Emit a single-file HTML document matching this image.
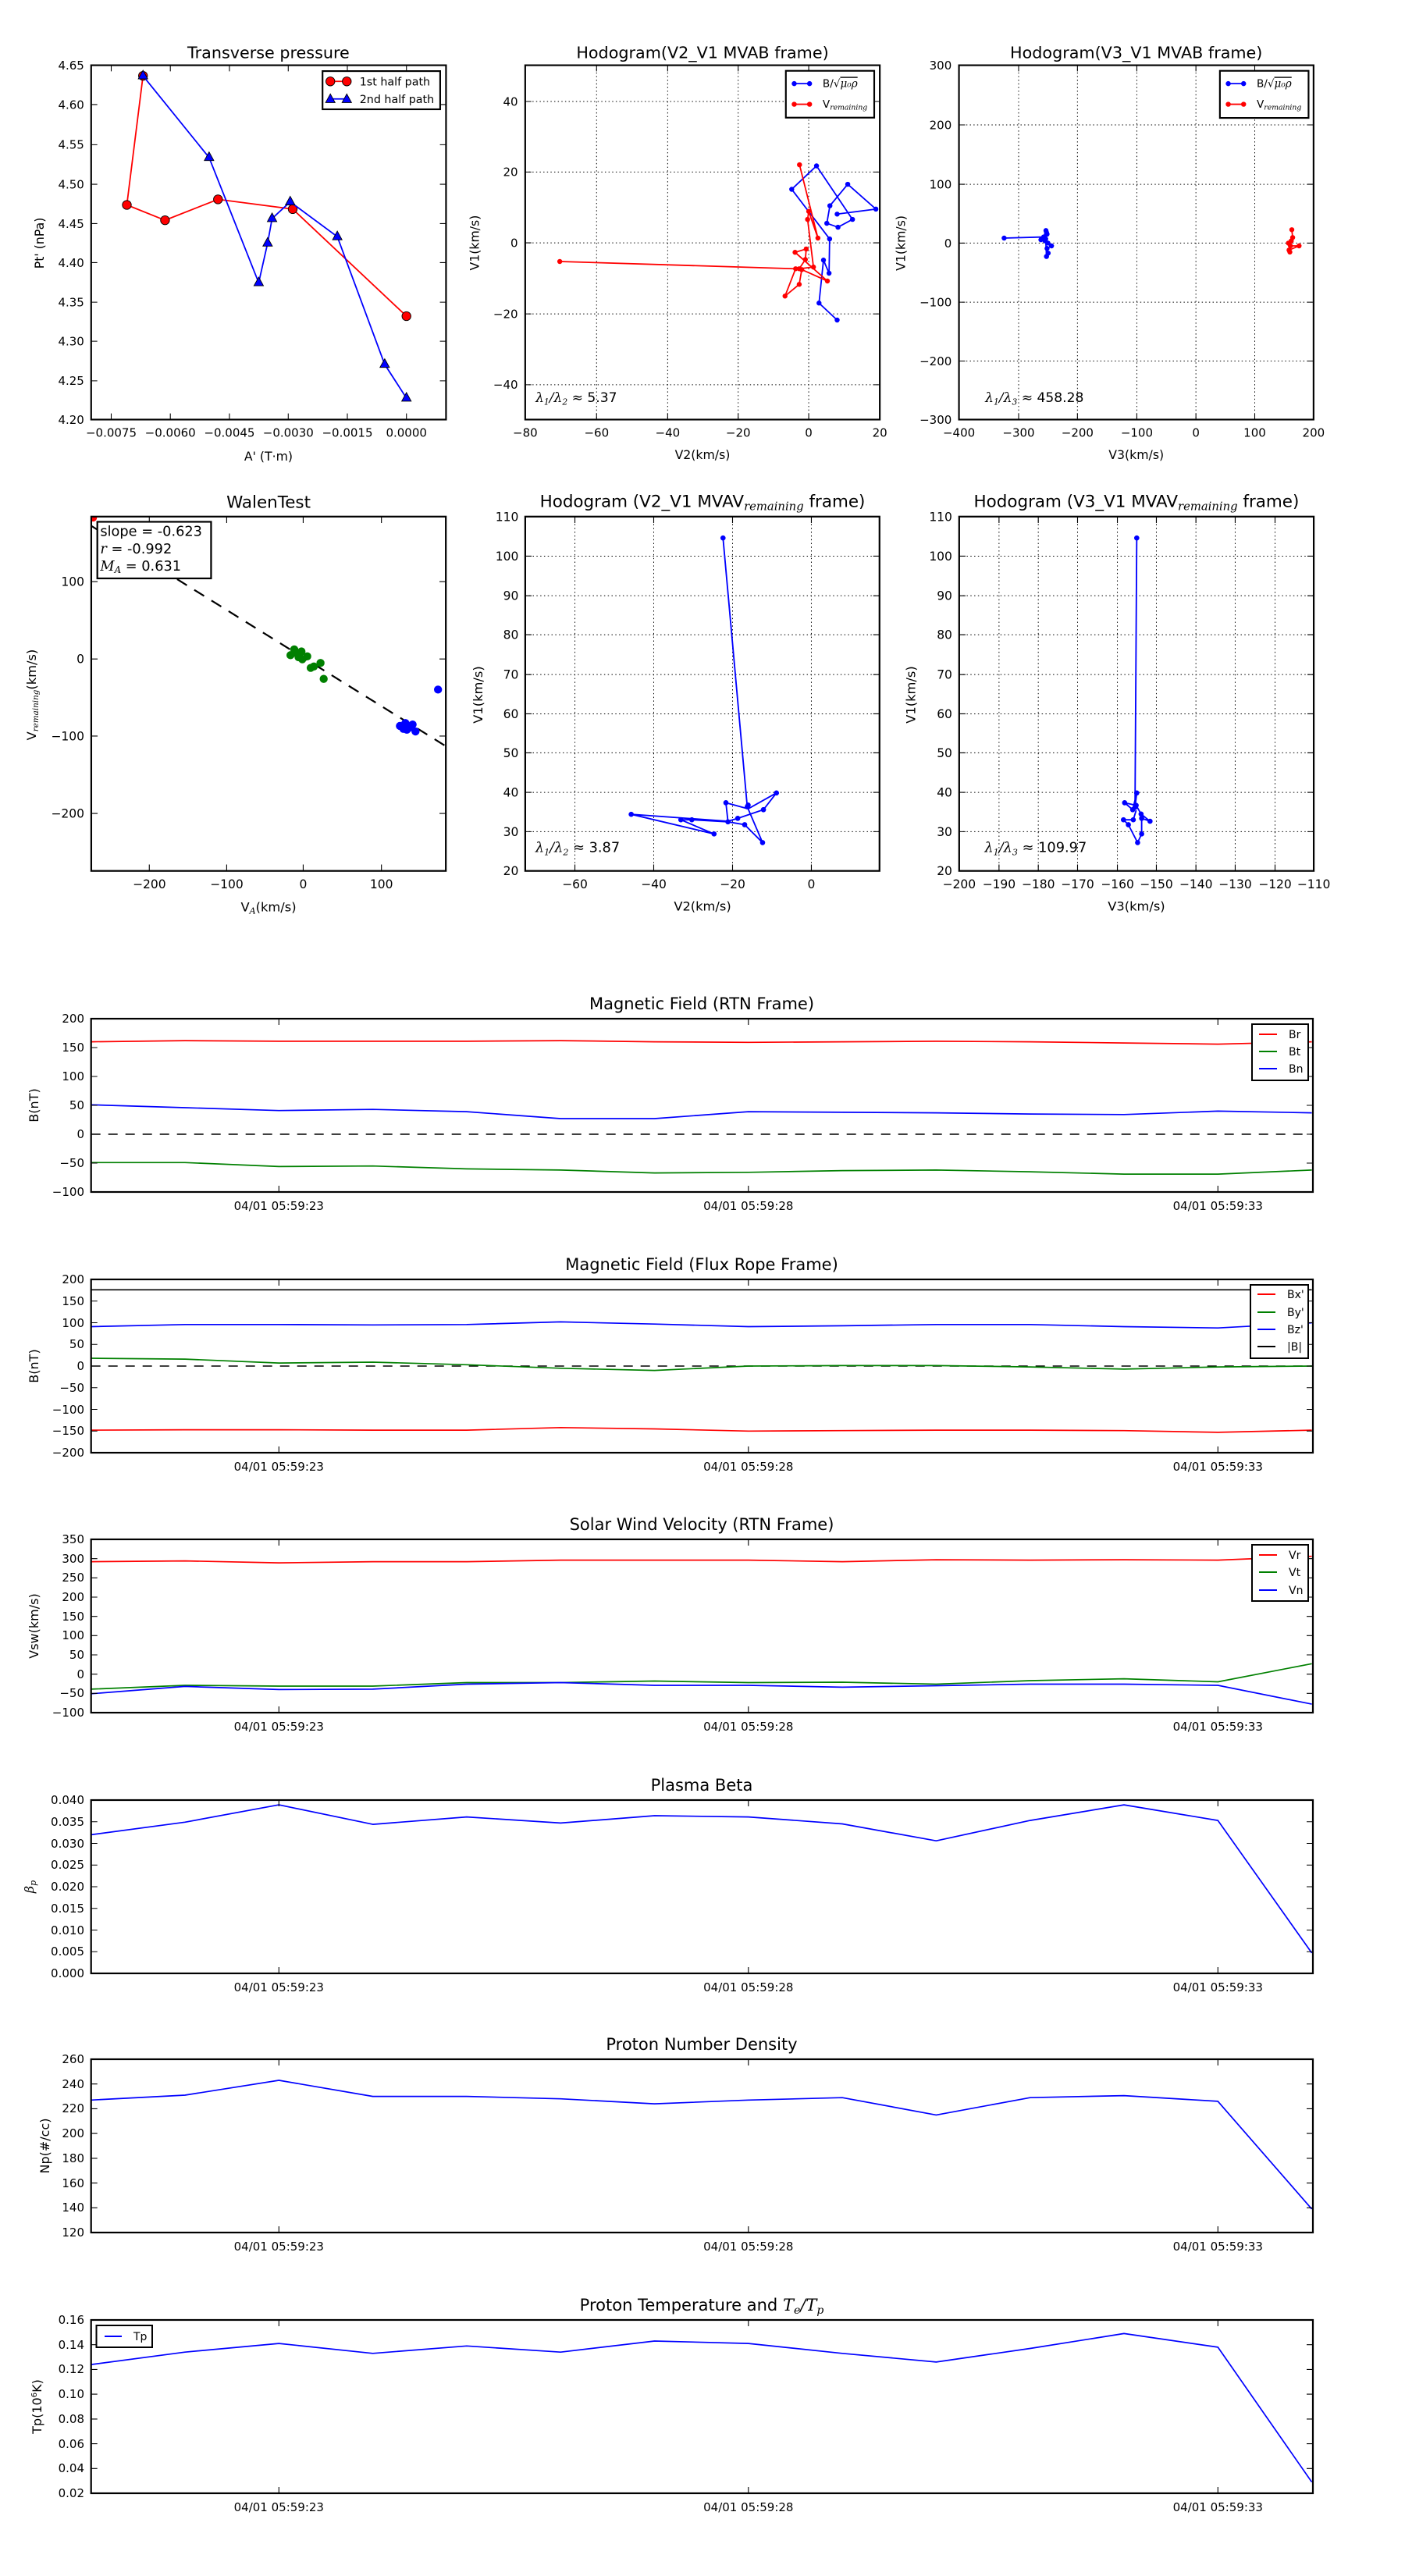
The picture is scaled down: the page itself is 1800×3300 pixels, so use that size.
<!DOCTYPE html>
<html><head><meta charset="utf-8"><style>
html,body{margin:0;padding:0;background:#fff}
svg{display:block}
text{font-family:"DejaVu Sans","Liberation Sans",sans-serif;fill:#000}
.m{font-family:"DejaVu Serif","Liberation Serif",serif;font-style:italic}
</style></head><body>
<svg width="1800" height="3300" viewBox="0 0 1800 3300" xmlns="http://www.w3.org/2000/svg">
<rect width="1800" height="3300" fill="#fff"/>
<defs>
<clipPath id="c1"><rect x="215" y="122" width="1273" height="1271"/></clipPath>
<clipPath id="c2"><rect x="148" y="122" width="1272" height="1271"/></clipPath>
<clipPath id="c3"><rect x="136" y="122" width="1272" height="1271"/></clipPath>
<clipPath id="c4"><rect x="262" y="113" width="1228" height="1227"/></clipPath>
<clipPath id="c5"><rect x="143" y="113" width="1227" height="1227"/></clipPath>
<clipPath id="c6"><rect x="132" y="113" width="1228" height="1227"/></clipPath>
<clipPath id="ct"><rect x="116.7" y="0" width="1565.3" height="3300"/></clipPath>
</defs>

<!-- ===== Panel 1: Transverse pressure ===== -->
<g transform="translate(40,40) scale(0.357143)">
<text x="851" y="97" font-size="58" text-anchor="middle">Transverse pressure</text>
<g clip-path="url(#c1)">
<polyline points="401,160 343,623 480,678 670,603 938,638 1346,1022" fill="none" stroke="#f00" stroke-width="5"/>
<g fill="#f00" stroke="#000" stroke-width="2.5">
<circle cx="401" cy="160" r="16"/><circle cx="343" cy="623" r="16"/><circle cx="480" cy="678" r="16"/><circle cx="670" cy="603" r="16"/><circle cx="938" cy="638" r="16"/><circle cx="1346" cy="1022" r="16"/>
</g>
<polyline points="401,160 638,453 816,902 848,760 864,672 929,612 1098,737 1268,1195 1346,1316" fill="none" stroke="#00f" stroke-width="5"/>
<path fill="#00f" stroke="#000" stroke-width="2.5" d="M401,140 L418,171 L384,171Z M638,433 L655,464 L621,464Z M816,882 L833,913 L799,913Z M848,740 L865,771 L831,771Z M864,652 L881,683 L847,683Z M929,592 L946,623 L912,623Z M1098,717 L1115,748 L1081,748Z M1268,1175 L1285,1206 L1251,1206Z M1346,1296 L1363,1327 L1329,1327Z"/>
</g>
<rect x="215" y="122" width="1273" height="1271" fill="none" stroke="#000" stroke-width="6"/>
<path stroke="#000" stroke-width="3" d="M215,263h22M215,407h22M215,549h22M215,690h22M215,830h22M215,972h22M215,1112h22M215,1254h22M1488,263h-22M1488,407h-22M1488,549h-22M1488,690h-22M1488,830h-22M1488,972h-22M1488,1112h-22M1488,1254h-22M287,1393v-22M499,1393v-22M711,1393v-22M922,1393v-22M1134,1393v-22M1346,1393v-22M287,122v22M499,122v22M711,122v22M922,122v22M1134,122v22M1346,122v22"/>
<g font-size="42" text-anchor="end">
<text x="190" y="137">4.65</text><text x="190" y="278">4.60</text><text x="190" y="422">4.55</text><text x="190" y="564">4.50</text><text x="190" y="705">4.45</text><text x="190" y="845">4.40</text><text x="190" y="987">4.35</text><text x="190" y="1127">4.30</text><text x="190" y="1269">4.25</text><text x="190" y="1408">4.20</text>
</g>
<g font-size="42" text-anchor="middle">
<text x="287" y="1455">−0.0075</text><text x="499" y="1455">−0.0060</text><text x="711" y="1455">−0.0045</text><text x="922" y="1455">−0.0030</text><text x="1134" y="1455">−0.0015</text><text x="1346" y="1455">0.0000</text>
</g>
<text x="851" y="1540" font-size="44" text-anchor="middle">A' (T·m)</text>
<text transform="translate(45,760) rotate(-90)" font-size="44" text-anchor="middle">Pt' (nPa)</text>
<rect x="1045" y="143" width="422" height="137" fill="#fff" stroke="#000" stroke-width="6"/>
<line x1="1073" y1="180" x2="1132" y2="180" stroke="#f00" stroke-width="5"/>
<circle cx="1073" cy="180" r="16" fill="#f00" stroke="#000" stroke-width="2.5"/><circle cx="1132" cy="180" r="16" fill="#f00" stroke="#000" stroke-width="2.5"/>
<text x="1178" y="194" font-size="40">1st half path</text>
<line x1="1073" y1="243" x2="1132" y2="243" stroke="#00f" stroke-width="5"/>
<path fill="#00f" stroke="#000" stroke-width="2.5" d="M1073,225 L1090,256 L1056,256Z M1132,225 L1149,256 L1115,256Z"/>
<text x="1178" y="257" font-size="40">2nd half path</text>
</g>

<!-- ===== Panel 2: Hodogram V2_V1 MVAB ===== -->
<g transform="translate(620,40) scale(0.357143)">
<text x="784" y="97" font-size="58" text-anchor="middle">Hodogram(V2_V1 MVAB frame)</text>
<path stroke="#000" stroke-width="2.8" stroke-dasharray="4,9" fill="none" d="M404,122V1393M659,122V1393M912,122V1393M1165,122V1393M148,252H1420M148,505H1420M148,759H1420M148,1014H1420M148,1268H1420"/>
<g clip-path="url(#c2)">
<polyline points="1267,1036 1202,975 1218,821 1238,868 1240,745 1104,567 1193,483 1322,675 1270,703 1230,689 1241,626 1305,549 1406,638 1267,656" fill="none" stroke="#00f" stroke-width="5"/>
<g fill="#00f"><circle cx="1267" cy="1036" r="9"/><circle cx="1202" cy="975" r="9"/><circle cx="1218" cy="821" r="9"/><circle cx="1238" cy="868" r="9"/><circle cx="1240" cy="745" r="9"/><circle cx="1104" cy="567" r="9"/><circle cx="1193" cy="483" r="9"/><circle cx="1322" cy="675" r="9"/><circle cx="1270" cy="703" r="9"/><circle cx="1230" cy="689" r="9"/><circle cx="1241" cy="626" r="9"/><circle cx="1305" cy="549" r="9"/><circle cx="1406" cy="638" r="9"/><circle cx="1267" cy="656" r="9"/></g>
<polyline points="272,826 1118,852 1080,950 1131,908 1140,855 1232,896 1116,793 1156,781 1153,819 1131,852 1182,846 1161,675 1165,646 1198,742 1132,479" fill="none" stroke="#f00" stroke-width="5"/>
<g fill="#f00"><circle cx="272" cy="826" r="9"/><circle cx="1118" cy="852" r="9"/><circle cx="1080" cy="950" r="9"/><circle cx="1131" cy="908" r="9"/><circle cx="1140" cy="855" r="9"/><circle cx="1232" cy="896" r="9"/><circle cx="1116" cy="793" r="9"/><circle cx="1156" cy="781" r="9"/><circle cx="1153" cy="819" r="9"/><circle cx="1131" cy="852" r="9"/><circle cx="1182" cy="846" r="9"/><circle cx="1161" cy="675" r="9"/><circle cx="1165" cy="646" r="9"/><circle cx="1198" cy="742" r="9"/><circle cx="1132" cy="479" r="9"/></g>
</g>
<rect x="148" y="122" width="1272" height="1271" fill="none" stroke="#000" stroke-width="6"/>
<path stroke="#000" stroke-width="3" d="M148,252h22M148,505h22M148,759h22M148,1014h22M148,1268h22M1420,252h-22M1420,505h-22M1420,759h-22M1420,1014h-22M1420,1268h-22M404,1393v-22M659,1393v-22M912,1393v-22M1165,1393v-22M404,122v22M659,122v22M912,122v22M1165,122v22"/>
<g font-size="42" text-anchor="end"><text x="122" y="267">40</text><text x="122" y="520">20</text><text x="122" y="774">0</text><text x="122" y="1029">−20</text><text x="122" y="1283">−40</text></g>
<g font-size="42" text-anchor="middle"><text x="148" y="1455">−80</text><text x="404" y="1455">−60</text><text x="659" y="1455">−40</text><text x="912" y="1455">−20</text><text x="1165" y="1455">0</text><text x="1420" y="1455">20</text></g>
<text x="784" y="1535" font-size="44" text-anchor="middle">V2(km/s)</text>
<text transform="translate(-18,759) rotate(-90)" font-size="44" text-anchor="middle">V1(km/s)</text>
<text x="185" y="1330" font-size="48"><tspan class="m">λ</tspan><tspan class="m" font-size="30" dy="10">1</tspan><tspan class="m" dy="-10">/λ</tspan><tspan class="m" font-size="30" dy="10">2</tspan><tspan dy="-10"> ≈ 5.37</tspan></text>
<rect x="1083" y="142" width="317" height="168" fill="#fff" stroke="#000" stroke-width="6"/>
<line x1="1113" y1="188" x2="1168" y2="188" stroke="#00f" stroke-width="5"/><circle cx="1113" cy="188" r="9" fill="#00f"/><circle cx="1168" cy="188" r="9" fill="#00f"/>
<text x="1215" y="200" font-size="38">B/√<tspan class="m" text-decoration="overline">μ₀ρ</tspan></text>
<line x1="1113" y1="262" x2="1168" y2="262" stroke="#f00" stroke-width="5"/><circle cx="1113" cy="262" r="9" fill="#f00"/><circle cx="1168" cy="262" r="9" fill="#f00"/>
<text x="1215" y="275" font-size="38">V<tspan class="m" font-size="26" dy="6">remaining</tspan></text>
</g>

<!-- ===== Panel 3: Hodogram V3_V1 MVAB ===== -->
<g transform="translate(1180,40) scale(0.357143)">
<text x="772" y="97" font-size="58" text-anchor="middle">Hodogram(V3_V1 MVAB frame)</text>
<path stroke="#000" stroke-width="2.8" stroke-dasharray="4,9" fill="none" d="M350,122V1393M561,122V1393M774,122V1393M986,122V1393M1197,122V1393M136,336H1408M136,549H1408M136,760H1408M136,972H1408M136,1183H1408"/>
<g clip-path="url(#c3)">
<polyline points="298,742 440,738 448,715 452,728 430,748 445,752 455,760 468,770 452,779 456,796 450,808 447,745 450,722" fill="none" stroke="#00f" stroke-width="5"/>
<g fill="#00f"><circle cx="298" cy="742" r="9"/><circle cx="440" cy="738" r="9"/><circle cx="448" cy="715" r="9"/><circle cx="452" cy="728" r="9"/><circle cx="430" cy="748" r="9"/><circle cx="445" cy="752" r="9"/><circle cx="455" cy="760" r="9"/><circle cx="468" cy="770" r="9"/><circle cx="452" cy="779" r="9"/><circle cx="456" cy="796" r="9"/><circle cx="450" cy="808" r="9"/><circle cx="447" cy="745" r="9"/><circle cx="450" cy="722" r="9"/></g>
<polyline points="1330,712 1333,740 1318,760 1325,770 1356,770 1320,785 1323,792 1328,752 1322,762" fill="none" stroke="#f00" stroke-width="5"/>
<g fill="#f00"><circle cx="1330" cy="712" r="9"/><circle cx="1333" cy="740" r="9"/><circle cx="1318" cy="760" r="9"/><circle cx="1325" cy="770" r="9"/><circle cx="1356" cy="770" r="9"/><circle cx="1320" cy="785" r="9"/><circle cx="1323" cy="792" r="9"/><circle cx="1328" cy="752" r="9"/></g>
</g>
<rect x="136" y="122" width="1272" height="1271" fill="none" stroke="#000" stroke-width="6"/>
<path stroke="#000" stroke-width="3" d="M136,336h22M136,549h22M136,760h22M136,972h22M136,1183h22M1408,336h-22M1408,549h-22M1408,760h-22M1408,972h-22M1408,1183h-22M350,1393v-22M561,1393v-22M774,1393v-22M986,1393v-22M1197,1393v-22M350,122v22M561,122v22M774,122v22M986,122v22M1197,122v22"/>
<g font-size="42" text-anchor="end"><text x="110" y="137">300</text><text x="110" y="351">200</text><text x="110" y="564">100</text><text x="110" y="775">0</text><text x="110" y="987">−100</text><text x="110" y="1198">−200</text><text x="110" y="1408">−300</text></g>
<g font-size="42" text-anchor="middle"><text x="136" y="1455">−400</text><text x="350" y="1455">−300</text><text x="561" y="1455">−200</text><text x="774" y="1455">−100</text><text x="986" y="1455">0</text><text x="1197" y="1455">100</text><text x="1408" y="1455">200</text></g>
<text x="772" y="1535" font-size="44" text-anchor="middle">V3(km/s)</text>
<text transform="translate(-58,760) rotate(-90)" font-size="44" text-anchor="middle">V1(km/s)</text>
<text x="230" y="1330" font-size="48"><tspan class="m">λ</tspan><tspan class="m" font-size="30" dy="10">1</tspan><tspan class="m" dy="-10">/λ</tspan><tspan class="m" font-size="30" dy="10">3</tspan><tspan dy="-10"> ≈ 458.28</tspan></text>
<rect x="1072" y="142" width="318" height="169" fill="#fff" stroke="#000" stroke-width="6"/>
<line x1="1102" y1="188" x2="1157" y2="188" stroke="#00f" stroke-width="5"/><circle cx="1102" cy="188" r="9" fill="#00f"/><circle cx="1157" cy="188" r="9" fill="#00f"/>
<text x="1204" y="200" font-size="38">B/√<tspan class="m" text-decoration="overline">μ₀ρ</tspan></text>
<line x1="1102" y1="262" x2="1157" y2="262" stroke="#f00" stroke-width="5"/><circle cx="1102" cy="262" r="9" fill="#f00"/><circle cx="1157" cy="262" r="9" fill="#f00"/>
<text x="1204" y="275" font-size="38">V<tspan class="m" font-size="26" dy="6">remaining</tspan></text>
</g>

<!-- ===== Panel 4: WalenTest ===== -->
<g transform="translate(20,620) scale(0.36991)">
<text x="876" y="82" font-size="58" text-anchor="middle">WalenTest</text>
<g clip-path="url(#c4)">
<line x1="262" y1="145" x2="1490" y2="908" stroke="#000" stroke-width="6" stroke-dasharray="40,30"/>
<circle cx="268" cy="116" r="14" fill="#f00"/>
<g fill="#008000"><circle cx="952" cy="593" r="14"/><circle cx="965" cy="573" r="14"/><circle cx="978" cy="590" r="14"/><circle cx="990" cy="580" r="14"/><circle cx="993" cy="607" r="14"/><circle cx="1010" cy="597" r="14"/><circle cx="1022" cy="637" r="14"/><circle cx="1033" cy="632" r="14"/><circle cx="1056" cy="620" r="14"/><circle cx="1067" cy="675" r="14"/><circle cx="980" cy="600" r="14"/><circle cx="970" cy="585" r="14"/></g>
<g fill="#00f"><circle cx="1331" cy="838" r="14"/><circle cx="1350" cy="828" r="14"/><circle cx="1355" cy="851" r="14"/><circle cx="1375" cy="833" r="14"/><circle cx="1385" cy="857" r="14"/><circle cx="1343" cy="848" r="14"/><circle cx="1463" cy="712" r="14"/><circle cx="1362" cy="845" r="14"/></g>
</g>
<rect x="262" y="113" width="1228" height="1227" fill="none" stroke="#000" stroke-width="6"/>
<path stroke="#000" stroke-width="3" d="M262,338h22M262,606h22M262,873h22M262,1141h22M1490,338h-22M1490,606h-22M1490,873h-22M1490,1141h-22M463,1340v-22M731,1340v-22M996,1340v-22M1267,1340v-22M463,113v22M731,113v22M996,113v22M1267,113v22"/>
<g font-size="42" text-anchor="end"><text x="238" y="353">100</text><text x="238" y="621">0</text><text x="238" y="888">−100</text><text x="238" y="1156">−200</text></g>
<g font-size="42" text-anchor="middle"><text x="463" y="1400">−200</text><text x="731" y="1400">−100</text><text x="996" y="1400">0</text><text x="1267" y="1400">100</text></g>
<text x="876" y="1480" font-size="44" text-anchor="middle">V<tspan class="m" font-size="30" dy="8">A</tspan><tspan dy="-8">(km/s)</tspan></text>
<text transform="translate(70,730) rotate(-90)" font-size="44" text-anchor="middle">V<tspan class="m" font-size="28" dy="8">remaining</tspan><tspan dy="-8">(km/s)</tspan></text>
<rect x="283" y="131" width="394" height="196" fill="#fff" stroke="#000" stroke-width="6"/>
<text x="293" y="180" font-size="48">slope = -0.623</text>
<text x="293" y="240" font-size="48"><tspan class="m">r</tspan> = -0.992</text>
<text x="293" y="300" font-size="48"><tspan class="m">M</tspan><tspan class="m" font-size="32" dy="8">A</tspan><tspan dy="-8"> = 0.631</tspan></text>
</g>

<!-- ===== Panel 5: Hodogram V2_V1 MVAV ===== -->
<g transform="translate(620,620) scale(0.36991)">
<text x="757" y="80" font-size="58" text-anchor="middle">Hodogram (V2_V1 MVAV<tspan class="m" font-size="40" dy="10">remaining</tspan><tspan dy="-10"> frame)</tspan></text>
<path stroke="#000" stroke-width="2.7" stroke-dasharray="4,9" fill="none" d="M315,113V1340M588,113V1340M861,113V1340M1134,113V1340M143,250H1370M143,387H1370M143,522H1370M143,660H1370M143,796H1370M143,931H1370M143,1068H1370M143,1204H1370"/>
<g clip-path="url(#c5)">
<polyline points="828,187 912,1118 965,1242 903,1180 845,1170 720,1163 682,1163 797,1212 510,1144 845,1168 879,1158 968,1128 1013,1070 915,1125 838,1104 845,1168" fill="none" stroke="#00f" stroke-width="5"/>
<g fill="#00f"><circle cx="828" cy="187" r="9"/><circle cx="912" cy="1118" r="9"/><circle cx="965" cy="1242" r="9"/><circle cx="903" cy="1180" r="9"/><circle cx="845" cy="1170" r="9"/><circle cx="720" cy="1163" r="9"/><circle cx="682" cy="1163" r="9"/><circle cx="797" cy="1212" r="9"/><circle cx="510" cy="1144" r="9"/><circle cx="879" cy="1158" r="9"/><circle cx="968" cy="1128" r="9"/><circle cx="1013" cy="1070" r="9"/><circle cx="915" cy="1112" r="9"/><circle cx="838" cy="1104" r="9"/></g>
</g>
<rect x="143" y="113" width="1227" height="1227" fill="none" stroke="#000" stroke-width="6"/>
<path stroke="#000" stroke-width="3" d="M143,250h22M143,387h22M143,522h22M143,660h22M143,796h22M143,931h22M143,1068h22M143,1204h22M1370,250h-22M1370,387h-22M1370,522h-22M1370,660h-22M1370,796h-22M1370,931h-22M1370,1068h-22M1370,1204h-22M315,1340v-22M588,1340v-22M861,1340v-22M1134,1340v-22M315,113v22M588,113v22M861,113v22M1134,113v22"/>
<g font-size="42" text-anchor="end"><text x="120" y="128">110</text><text x="120" y="265">100</text><text x="120" y="402">90</text><text x="120" y="537">80</text><text x="120" y="675">70</text><text x="120" y="811">60</text><text x="120" y="946">50</text><text x="120" y="1083">40</text><text x="120" y="1219">30</text><text x="120" y="1355">20</text></g>
<g font-size="42" text-anchor="middle"><text x="315" y="1400">−60</text><text x="588" y="1400">−40</text><text x="861" y="1400">−20</text><text x="1134" y="1400">0</text></g>
<text x="757" y="1478" font-size="44" text-anchor="middle">V2(km/s)</text>
<text transform="translate(-6,730) rotate(-90)" font-size="44" text-anchor="middle">V1(km/s)</text>
<text x="178" y="1275" font-size="48"><tspan class="m">λ</tspan><tspan class="m" font-size="30" dy="10">1</tspan><tspan class="m" dy="-10">/λ</tspan><tspan class="m" font-size="30" dy="10">2</tspan><tspan dy="-10"> ≈ 3.87</tspan></text>
</g>

<!-- ===== Panel 6: Hodogram V3_V1 MVAV ===== -->
<g transform="translate(1180,620) scale(0.36991)">
<text x="746" y="80" font-size="58" text-anchor="middle">Hodogram (V3_V1 MVAV<tspan class="m" font-size="40" dy="10">remaining</tspan><tspan dy="-10"> frame)</tspan></text>
<path stroke="#000" stroke-width="2.7" stroke-dasharray="4,9" fill="none" d="M270,113V1340M406,113V1340M542,113V1340M680,113V1340M815,113V1340M952,113V1340M1088,113V1340M1226,113V1340M132,250H1360M132,387H1360M132,522H1360M132,660H1360M132,796H1360M132,931H1360M132,1068H1360M132,1204H1360"/>
<g clip-path="url(#c6)">
<polyline points="747,187 741,1120 747,1070 733,1128 705,1104 745,1113 762,1143 793,1168 764,1158 764,1212 750,1242 718,1180 701,1163 735,1163 745,1130" fill="none" stroke="#00f" stroke-width="5"/>
<g fill="#00f"><circle cx="747" cy="187" r="9"/><circle cx="741" cy="1120" r="9"/><circle cx="747" cy="1070" r="9"/><circle cx="733" cy="1128" r="9"/><circle cx="705" cy="1104" r="9"/><circle cx="745" cy="1113" r="9"/><circle cx="762" cy="1143" r="9"/><circle cx="793" cy="1168" r="9"/><circle cx="764" cy="1158" r="9"/><circle cx="764" cy="1212" r="9"/><circle cx="750" cy="1242" r="9"/><circle cx="718" cy="1180" r="9"/><circle cx="701" cy="1163" r="9"/><circle cx="735" cy="1163" r="9"/></g>
</g>
<rect x="132" y="113" width="1228" height="1227" fill="none" stroke="#000" stroke-width="6"/>
<path stroke="#000" stroke-width="3" d="M132,250h22M132,387h22M132,522h22M132,660h22M132,796h22M132,931h22M132,1068h22M132,1204h22M1360,250h-22M1360,387h-22M1360,522h-22M1360,660h-22M1360,796h-22M1360,931h-22M1360,1068h-22M1360,1204h-22M270,1340v-22M406,1340v-22M542,1340v-22M680,1340v-22M815,1340v-22M952,1340v-22M1088,1340v-22M1226,1340v-22M270,113v22M406,113v22M542,113v22M680,113v22M815,113v22M952,113v22M1088,113v22M1226,113v22"/>
<g font-size="42" text-anchor="end"><text x="108" y="128">110</text><text x="108" y="265">100</text><text x="108" y="402">90</text><text x="108" y="537">80</text><text x="108" y="675">70</text><text x="108" y="811">60</text><text x="108" y="946">50</text><text x="108" y="1083">40</text><text x="108" y="1219">30</text><text x="108" y="1355">20</text></g>
<g font-size="42" text-anchor="middle"><text x="132" y="1400">−200</text><text x="270" y="1400">−190</text><text x="406" y="1400">−180</text><text x="542" y="1400">−170</text><text x="680" y="1400">−160</text><text x="815" y="1400">−150</text><text x="952" y="1400">−140</text><text x="1088" y="1400">−130</text><text x="1226" y="1400">−120</text><text x="1360" y="1400">−110</text></g>
<text x="746" y="1478" font-size="44" text-anchor="middle">V3(km/s)</text>
<text transform="translate(-20,730) rotate(-90)" font-size="44" text-anchor="middle">V1(km/s)</text>
<text x="220" y="1275" font-size="48"><tspan class="m">λ</tspan><tspan class="m" font-size="30" dy="10">1</tspan><tspan class="m" dy="-10">/λ</tspan><tspan class="m" font-size="30" dy="10">3</tspan><tspan dy="-10"> ≈ 109.97</tspan></text>
</g>

<!-- ===== Time series ===== -->
<g font-size="21" text-anchor="middle">
<text x="899" y="1293">Magnetic Field (RTN Frame)</text>
<text x="899" y="1627">Magnetic Field (Flux Rope Frame)</text>
<text x="899" y="1960">Solar Wind Velocity (RTN Frame)</text>
<text x="899" y="2294">Plasma Beta</text>
<text x="899" y="2626">Proton Number Density</text>
<text x="899" y="2960">Proton Temperature and <tspan class="m">T</tspan><tspan class="m" font-size="14" dy="4">e</tspan><tspan class="m" dy="-4">/T</tspan><tspan class="m" font-size="14" dy="4">p</tspan></text>
</g>

<g clip-path="url(#ct)" fill="none" stroke-width="1.7" stroke-linejoin="round">
<!-- P1 -->
<line x1="116.7" y1="1453" x2="1682" y2="1453" stroke="#000" stroke-width="1.5" stroke-dasharray="12,10"/>
<polyline stroke="#f00" points="116.7,1334.6 237,1333.1 357.3,1333.9 477.6,1333.9 597.9,1333.9 718.2,1333.1 838.5,1334.6 958.8,1335.3 1079.1,1334.6 1199.4,1333.9 1319.7,1334.6 1440,1336.1 1560.3,1337.6 1680.6,1334.6"/>
<polyline stroke="#008000" points="116.7,1489.3 237,1489.3 357.3,1494.4 477.6,1493.7 597.9,1497.4 718.2,1498.9 838.5,1502.6 958.8,1501.8 1079.1,1499.6 1199.4,1498.9 1319.7,1501.1 1440,1504.1 1560.3,1504.1 1680.6,1498.9"/>
<polyline stroke="#00f" points="116.7,1415.3 237,1419 357.3,1422.7 477.6,1421.2 597.9,1424.1 718.2,1433 838.5,1433 958.8,1424.1 1079.1,1424.9 1199.4,1425.6 1319.7,1427.1 1440,1427.8 1560.3,1423.4 1680.6,1425.6"/>
<!-- P2 -->
<line x1="116.7" y1="1750" x2="1682" y2="1750" stroke="#000" stroke-width="1.5" stroke-dasharray="12,10"/>
<polyline stroke="#000" points="116.7,1652.3 1680.6,1652.3"/>
<polyline stroke="#00f" points="116.7,1699.5 237,1696.8 357.3,1696.8 477.6,1697.3 597.9,1696.8 718.2,1693.4 838.5,1696.2 958.8,1699.5 1079.1,1698.4 1199.4,1696.8 1319.7,1696.8 1440,1699.5 1560.3,1701.2 1680.6,1694.6"/>
<polyline stroke="#008000" points="116.7,1740 237,1741.1 357.3,1746.1 477.6,1745 597.9,1748.3 718.2,1752.8 838.5,1755.6 958.8,1750 1079.1,1749.4 1199.4,1749.4 1319.7,1751.1 1440,1753.9 1560.3,1751.1 1680.6,1750"/>
<polyline stroke="#f00" points="116.7,1832.1 237,1831.6 357.3,1831.6 477.6,1832.1 597.9,1832.1 718.2,1828.8 838.5,1830.5 958.8,1833.3 1079.1,1832.7 1199.4,1832.1 1319.7,1832.1 1440,1832.7 1560.3,1834.9 1680.6,1832.1"/>
<!-- P3 -->
<polyline stroke="#f00" points="116.7,2000.6 237,1999.6 357.3,2002.1 477.6,2000.6 597.9,2000.6 718.2,1998.6 838.5,1998.6 958.8,1998.6 1079.1,2000.6 1199.4,1998.1 1319.7,1998.6 1440,1998.1 1560.3,1998.6 1680.6,1993.7"/>
<polyline stroke="#008000" points="116.7,2163.9 237,2159 357.3,2160 477.6,2160 597.9,2155.5 718.2,2155.5 838.5,2153.5 958.8,2155.5 1079.1,2155 1199.4,2157.5 1319.7,2153 1440,2150.6 1560.3,2154.5 1680.6,2131.3"/>
<polyline stroke="#00f" points="116.7,2169.8 237,2160.4 357.3,2164.4 477.6,2163.9 597.9,2157.5 718.2,2155.5 838.5,2159 958.8,2159 1079.1,2161.4 1199.4,2159.5 1319.7,2157.5 1440,2157.5 1560.3,2159 1680.6,2183.1"/>
<!-- P4 -->
<polyline stroke="#00f" points="116.7,2350.4 237,2334.3 357.3,2312.1 477.6,2337.1 597.9,2327.6 718.2,2335.4 838.5,2326 958.8,2327.6 1079.1,2336.5 1199.4,2358.2 1319.7,2332.1 1440,2312.1 1560.3,2332.1 1680.6,2501.9"/>
<!-- P5 -->
<polyline stroke="#00f" points="116.7,2690.3 237,2684 357.3,2665 477.6,2685.6 597.9,2685.6 718.2,2688.7 838.5,2695.1 958.8,2690.3 1079.1,2687.2 1199.4,2709.4 1319.7,2687.2 1440,2684.6 1560.3,2691.9 1680.6,2829.9"/>
<!-- P6 -->
<polyline stroke="#00f" points="116.7,3029.1 237,3013.2 357.3,3002.1 477.6,3014.8 597.9,3005.3 718.2,3013.2 838.5,2999 958.8,3002.1 1079.1,3014.8 1199.4,3025.9 1319.7,3008.5 1440,2989.4 1560.3,3006.9 1680.6,3179.7"/>
</g>

<!-- frames -->
<g fill="none" stroke="#000" stroke-width="2.2">
<rect x="116.7" y="1305" width="1565.3" height="222"/>
<rect x="116.7" y="1639" width="1565.3" height="222"/>
<rect x="116.7" y="1972" width="1565.3" height="222"/>
<rect x="116.7" y="2306" width="1565.3" height="222"/>
<rect x="116.7" y="2638" width="1565.3" height="222"/>
<rect x="116.7" y="2972" width="1565.3" height="222"/>
</g>
<path stroke="#000" stroke-width="1.1" fill="none" d="
M116.7,1342h8M116.7,1379h8M116.7,1416h8M116.7,1453h8M116.7,1490h8M1682,1342h-8M1682,1379h-8M1682,1416h-8M1682,1453h-8M1682,1490h-8
M357.3,1305v8M958.8,1305v8M1560.3,1305v8M357.3,1527v-8M958.8,1527v-8M1560.3,1527v-8
M116.7,1666.75h8M116.7,1694.5h8M116.7,1722.25h8M116.7,1750h8M116.7,1777.75h8M116.7,1805.5h8M116.7,1833.25h8M1682,1666.75h-8M1682,1694.5h-8M1682,1722.25h-8M1682,1750h-8M1682,1777.75h-8M1682,1805.5h-8M1682,1833.25h-8
M357.3,1639v8M958.8,1639v8M1560.3,1639v8M357.3,1861v-8M958.8,1861v-8M1560.3,1861v-8
M116.7,1996.7h8M116.7,2021.3h8M116.7,2046h8M116.7,2070.7h8M116.7,2095.3h8M116.7,2120h8M116.7,2144.7h8M116.7,2169.3h8M1682,1996.7h-8M1682,2021.3h-8M1682,2046h-8M1682,2070.7h-8M1682,2095.3h-8M1682,2120h-8M1682,2144.7h-8M1682,2169.3h-8
M357.3,1972v8M958.8,1972v8M1560.3,1972v8M357.3,2194v-8M958.8,2194v-8M1560.3,2194v-8
M116.7,2333.75h8M116.7,2361.5h8M116.7,2389.25h8M116.7,2417h8M116.7,2444.75h8M116.7,2472.5h8M116.7,2500.25h8M1682,2333.75h-8M1682,2361.5h-8M1682,2389.25h-8M1682,2417h-8M1682,2444.75h-8M1682,2472.5h-8M1682,2500.25h-8
M357.3,2306v8M958.8,2306v8M1560.3,2306v8M357.3,2528v-8M958.8,2528v-8M1560.3,2528v-8
M116.7,2669.7h8M116.7,2701.4h8M116.7,2733.1h8M116.7,2764.9h8M116.7,2796.6h8M116.7,2828.3h8M1682,2669.7h-8M1682,2701.4h-8M1682,2733.1h-8M1682,2764.9h-8M1682,2796.6h-8M1682,2828.3h-8
M357.3,2638v8M958.8,2638v8M1560.3,2638v8M357.3,2860v-8M958.8,2860v-8M1560.3,2860v-8
M116.7,3003.7h8M116.7,3035.4h8M116.7,3067.1h8M116.7,3098.9h8M116.7,3130.6h8M116.7,3162.3h8M1682,3003.7h-8M1682,3035.4h-8M1682,3067.1h-8M1682,3098.9h-8M1682,3130.6h-8M1682,3162.3h-8
M357.3,2972v8M958.8,2972v8M1560.3,2972v8M357.3,3194v-8M958.8,3194v-8M1560.3,3194v-8"/>

<!-- y tick labels -->
<g font-size="15" text-anchor="end">
<text x="108" y="1310">200</text><text x="108" y="1347">150</text><text x="108" y="1384">100</text><text x="108" y="1421">50</text><text x="108" y="1458">0</text><text x="108" y="1495">−50</text><text x="108" y="1532">−100</text>
<text x="108" y="1644">200</text><text x="108" y="1672">150</text><text x="108" y="1700">100</text><text x="108" y="1727">50</text><text x="108" y="1755">0</text><text x="108" y="1783">−50</text><text x="108" y="1811">−100</text><text x="108" y="1838">−150</text><text x="108" y="1866">−200</text>
<text x="108" y="1977">350</text><text x="108" y="2002">300</text><text x="108" y="2026">250</text><text x="108" y="2051">200</text><text x="108" y="2076">150</text><text x="108" y="2100">100</text><text x="108" y="2125">50</text><text x="108" y="2150">0</text><text x="108" y="2174">−50</text><text x="108" y="2199">−100</text>
<text x="108" y="2311">0.040</text><text x="108" y="2339">0.035</text><text x="108" y="2367">0.030</text><text x="108" y="2394">0.025</text><text x="108" y="2422">0.020</text><text x="108" y="2450">0.015</text><text x="108" y="2478">0.010</text><text x="108" y="2505">0.005</text><text x="108" y="2533">0.000</text>
<text x="108" y="2643">260</text><text x="108" y="2675">240</text><text x="108" y="2706">220</text><text x="108" y="2738">200</text><text x="108" y="2770">180</text><text x="108" y="2802">160</text><text x="108" y="2833">140</text><text x="108" y="2865">120</text>
<text x="108" y="2977">0.16</text><text x="108" y="3009">0.14</text><text x="108" y="3040">0.12</text><text x="108" y="3072">0.10</text><text x="108" y="3104">0.08</text><text x="108" y="3136">0.06</text><text x="108" y="3167">0.04</text><text x="108" y="3199">0.02</text>
</g>
<!-- date labels -->
<g font-size="15" text-anchor="middle">
<text x="357.3" y="1550">04/01 05:59:23</text><text x="958.8" y="1550">04/01 05:59:28</text><text x="1560.3" y="1550">04/01 05:59:33</text>
<text x="357.3" y="1884">04/01 05:59:23</text><text x="958.8" y="1884">04/01 05:59:28</text><text x="1560.3" y="1884">04/01 05:59:33</text>
<text x="357.3" y="2217">04/01 05:59:23</text><text x="958.8" y="2217">04/01 05:59:28</text><text x="1560.3" y="2217">04/01 05:59:33</text>
<text x="357.3" y="2551">04/01 05:59:23</text><text x="958.8" y="2551">04/01 05:59:28</text><text x="1560.3" y="2551">04/01 05:59:33</text>
<text x="357.3" y="2883">04/01 05:59:23</text><text x="958.8" y="2883">04/01 05:59:28</text><text x="1560.3" y="2883">04/01 05:59:33</text>
<text x="357.3" y="3217">04/01 05:59:23</text><text x="958.8" y="3217">04/01 05:59:28</text><text x="1560.3" y="3217">04/01 05:59:33</text>
</g>
<!-- y axis labels -->
<g font-size="16" text-anchor="middle">
<text transform="translate(49,1416) rotate(-90)">B(nT)</text>
<text transform="translate(49,1750) rotate(-90)">B(nT)</text>
<text transform="translate(49,2083) rotate(-90)">Vsw(km/s)</text>
<text transform="translate(43,2417) rotate(-90)" class="m">β<tspan font-size="11" dy="3">p</tspan></text>
<text transform="translate(63,2749) rotate(-90)">Np(#/cc)</text>
<text transform="translate(53,3083) rotate(-90)">Tp(10<tspan font-size="10" dy="-6">6</tspan><tspan dy="6">K)</tspan></text>
</g>

<!-- legends -->
<g font-size="14">
<rect x="1604" y="1312" width="72" height="72" fill="#fff" stroke="#000" stroke-width="2"/>
<line x1="1613" y1="1325" x2="1636" y2="1325" stroke="#f00" stroke-width="2"/><text x="1651" y="1330">Br</text>
<line x1="1613" y1="1347" x2="1636" y2="1347" stroke="#008000" stroke-width="2"/><text x="1651" y="1352">Bt</text>
<line x1="1613" y1="1369" x2="1636" y2="1369" stroke="#00f" stroke-width="2"/><text x="1651" y="1374">Bn</text>

<rect x="1602" y="1646" width="74" height="94" fill="#fff" stroke="#000" stroke-width="2"/>
<line x1="1611" y1="1658" x2="1634" y2="1658" stroke="#f00" stroke-width="2"/><text x="1649" y="1663">Bx'</text>
<line x1="1611" y1="1681" x2="1634" y2="1681" stroke="#008000" stroke-width="2"/><text x="1649" y="1686">By'</text>
<line x1="1611" y1="1703" x2="1634" y2="1703" stroke="#00f" stroke-width="2"/><text x="1649" y="1708">Bz'</text>
<line x1="1611" y1="1725" x2="1634" y2="1725" stroke="#000" stroke-width="2"/><text x="1649" y="1730">|B|</text>

<rect x="1604" y="1979" width="72" height="72" fill="#fff" stroke="#000" stroke-width="2"/>
<line x1="1613" y1="1992" x2="1636" y2="1992" stroke="#f00" stroke-width="2"/><text x="1651" y="1997">Vr</text>
<line x1="1613" y1="2014" x2="1636" y2="2014" stroke="#008000" stroke-width="2"/><text x="1651" y="2019">Vt</text>
<line x1="1613" y1="2037" x2="1636" y2="2037" stroke="#00f" stroke-width="2"/><text x="1651" y="2042">Vn</text>

<rect x="123.5" y="2979" width="71.5" height="28" fill="#fff" stroke="#000" stroke-width="2"/>
<line x1="134" y1="2993" x2="156" y2="2993" stroke="#00f" stroke-width="2"/><text x="171" y="2998">Tp</text>
</g>
</svg>
</body></html>
